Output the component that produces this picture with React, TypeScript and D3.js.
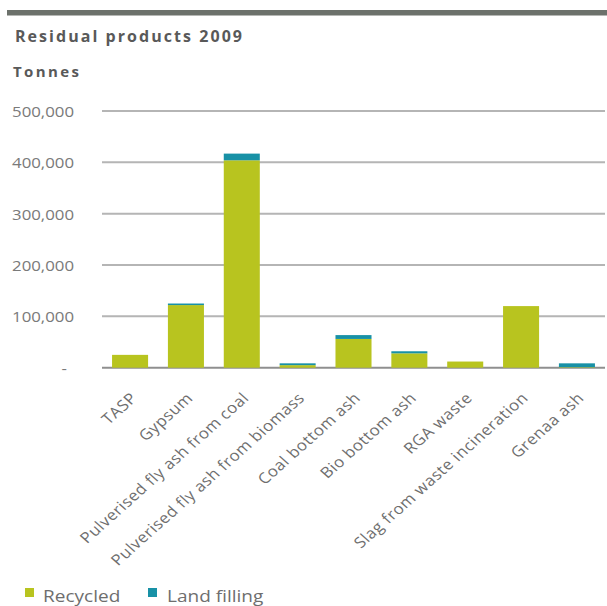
import * as d3 from "d3";
import { useEffect, useRef } from "react";

const categories = [
    "TASP",
    "Gypsum",
    "Pulverised fly ash from coal",
    "Pulverised fly ash from biomass",
    "Coal bottom ash",
    "Bio bottom ash",
    "RGA waste",
    "Slag from waste incineration",
    "Grenaa ash",
];
const recycled = [25000, 122000, 404000, 5000, 56000, 28000, 12000, 120000, 1000];
const landFilling = [0, 3000, 13000, 3500, 7500, 4000, 0, 0, 7500];
const yTicks = [0, 100000, 200000, 300000, 400000, 500000];
const seriesNames = ["Recycled", "Land filling"];

const colors = ["#b8c41f", "#1891a6"];
const font = "'Open Sans', sans-serif";
// the source picture is stretched a little sideways
const stretch = 1.12;

export default function App() {
    const svgRef = useRef<SVGSVGElement>(null);
    const width = 607;
    const height = 606;

    useEffect(() => {
        document.body.style.margin = "0";
        if (svgRef.current) {
            drawChart();
        }
    }, []);

    const drawChart = () => {
        const svg = d3.select(svgRef.current);
        svg.selectAll("*").remove();

        // top rule
        svg.append("rect").attr("x", 7).attr("y", 10).attr("width", 600).attr("height", 5.5).attr("fill", "#6c716b");

        svg.append("text")
            .attr("x", 15)
            .attr("y", 42)
            .attr("font-family", font)
            .attr("font-weight", 700)
            .attr("font-size", 16)
            .attr("fill", "#595959")
            .attr("textLength", 227)
            .attr("lengthAdjust", "spacing")
            .text("Residual products 2009");

        svg.append("text")
            .attr("x", 13)
            .attr("y", 77)
            .attr("font-family", font)
            .attr("font-weight", 700)
            .attr("font-size", 15)
            .attr("fill", "#595959")
            .attr("textLength", 66)
            .attr("lengthAdjust", "spacing")
            .text("Tonnes");

        const scaleX = d3.scaleBand().domain(categories).range([102, 605]).paddingInner(0.355).paddingOuter(0.18);
        const scaleY = d3.scaleLinear().domain([0, 500000]).range([367.7, 111]);

        // grid lines
        svg.append("g")
            .selectAll("line")
            .data(yTicks)
            .enter()
            .append("line")
            .attr("x1", 102)
            .attr("x2", 605)
            .attr("y1", (d) => scaleY(d))
            .attr("y2", (d) => scaleY(d))
            .attr("stroke", (d) => (d === 0 ? "#8f8f8f" : "#b5b5b5"))
            .attr("stroke-width", 2);

        // y labels
        svg.append("g")
            .selectAll("text")
            .data(yTicks)
            .enter()
            .append("text")
            .attr("transform", (d) => "translate(" + (d === 0 ? 67 : 74) + "," + (scaleY(d) + 6) + ") scale(" + stretch + ",1)")
            .attr("text-anchor", "end")
            .attr("font-family", font)
            .attr("font-size", 15)
            .attr("fill", "#7a7a7a")
            .text((d) => (d === 0 ? "-" : d3.format(",")(d)));

        // stacked bars
        const rows = categories.map((c, i) => ({ cat: c, recycled: recycled[i], landFilling: landFilling[i] }));
        const stack = d3.stack<any>().keys(["recycled", "landFilling"])(rows);
        svg.append("g")
            .selectAll("g")
            .data(stack)
            .enter()
            .append("g")
            .attr("fill", (d, i) => colors[i])
            .selectAll("rect")
            .data((d) => d)
            .enter()
            .append("rect")
            .attr("x", (d: any) => scaleX(d.data.cat)!)
            .attr("width", scaleX.bandwidth())
            .attr("y", (d) => scaleY(d[1]))
            .attr("height", (d) => scaleY(d[0]) - scaleY(d[1]));

        // category labels
        svg.append("g")
            .selectAll("text")
            .data(categories)
            .enter()
            .append("text")
            .attr(
                "transform",
                (d) =>
                    "translate(" + (scaleX(d)! + scaleX.bandwidth() / 2 + 8) + ",399) scale(" + stretch + ",1) rotate(-45)"
            )
            .attr("text-anchor", "end")
            .attr("font-family", font)
            .attr("font-size", 15)
            .attr("letter-spacing", 0.5)
            .attr("fill", "#6e6e6e")
            .text((d) => d);

        // legend
        const legendX = [25, 148];
        const legendTextX = [43, 167];
        seriesNames.forEach((name, i) => {
            svg.append("rect").attr("x", legendX[i]).attr("y", 588).attr("width", 9).attr("height", 9).attr("fill", colors[i]);
            svg.append("text")
                .attr("transform", "translate(" + legendTextX[i] + ",601.5) scale(" + stretch + ",1)")
                .attr("font-family", font)
                .attr("font-size", 17)
                .attr("fill", "#6e6e6e")
                .text(name);
        });
    };

    return <svg ref={svgRef} width={width} height={height} style={{ display: "block" }} />;
}
